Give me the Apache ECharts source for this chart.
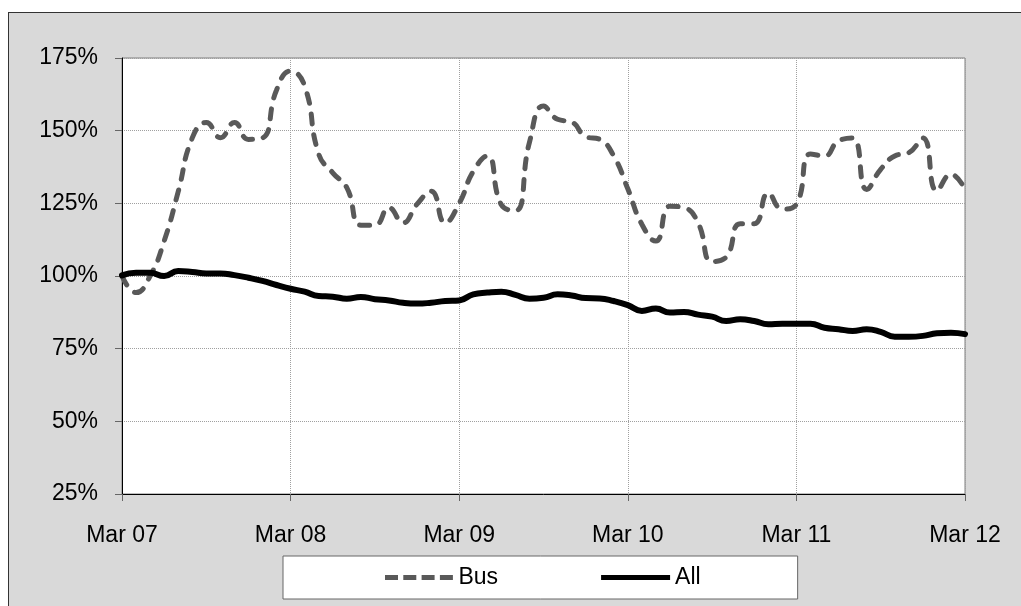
<!DOCTYPE html>
<html>
<head>
<meta charset="utf-8">
<script src="https://cdn.jsdelivr.net/npm/echarts@6/dist/echarts.min.js"></script>
<style>
html,body{margin:0;padding:0;background:#fff;}
#panel{position:absolute;left:8px;top:12px;width:1013px;height:594px;background:#d9d9d9;border-top:1px solid #333;border-left:1px solid #333;box-sizing:border-box;}
#chart{position:absolute;left:0;top:0;width:1021px;height:606px;}
</style>
</head>
<body>
<div id="panel"></div>
<div id="chart"></div>
<script>
const monthNames = ['Mar','Apr','May','Jun','Jul','Aug','Sep','Oct','Nov','Dec','Jan','Feb'];
const tickLabels = ['Mar 07','Mar 08','Mar 09','Mar 10','Mar 11','Mar 12'];
const seriesNames = ['Bus','All'];

const busValues = [
  100, 94.3, 100, 112, 129, 147.5, 152.8, 147.6, 152.8, 147, 147.5, 164,
  170.5, 165.4, 142, 135.5, 130.4, 117.5, 117.5, 123.5, 118.3, 124.7, 129.2, 118.3,
  125, 136, 141.3, 124.5, 122.5, 146, 158.5, 153.9, 153, 148, 147, 141.3,
  130, 117.8, 112, 124, 123.5, 118.3, 105, 106.5, 118, 118, 128.5, 123,
  124.7, 142, 141.3, 146.5, 147.5, 129.8, 136.7, 141.3, 142.4, 147.5, 129.3, 135, 129.8
];
const allValues = [
  100.2, 101.1, 101.1, 100, 101.7, 101.4, 100.9, 100.9, 100.3, 99.4, 98.3, 96.9,
  95.6, 94.6, 93.1, 92.9, 92.2, 92.8, 92, 91.6, 90.8, 90.5, 90.8, 91.4,
  91.6, 93.7, 94.3, 94.6, 93.5, 92.2, 92.5, 93.7, 93.3, 92.4, 92.3, 91.4,
  90, 88, 88.8, 87.4, 87.6, 86.7, 86, 84.5, 85.1, 84.5, 83.4, 83.6,
  83.6, 83.6, 82.2, 81.7, 81.1, 81.7, 80.8, 79.1, 79.1, 79.4, 80.3, 80.5, 80
];

// monthly category labels, Mar 07 .. Mar 12
const categories = [];
for (let y = 0; y < tickLabels.length; y++) {
  const yy = tickLabels[y].slice(4);
  const count = (y === tickLabels.length - 1) ? 1 : 12;
  for (let m = 0; m < count; m++) {
    const label = monthNames[m] + ' ' + (m >= 10 ? tickLabels[y + 1].slice(4) : yy);
    categories.push(label);
  }
}

const yearTick = (i) => i % 12 === 0;
const font = "'Liberation Sans', Arial, sans-serif";
const dashIcon = 'path://M0,0H13V5H0Z M18.3,0H31.3V5H18.3Z M36.6,0H49.6V5H36.6Z M54.9,0H67.9V5H54.9Z';
const solidIcon = 'path://M0,0H70V5H0Z';

const chart = echarts.init(document.getElementById('chart'));
chart.setOption({
  animation: false,
  backgroundColor: 'transparent',
  grid: {
    left: 122, top: 58, right: 56, bottom: 112,
    show: true, backgroundColor: '#ffffff', borderColor: '#7f7f7f', borderWidth: 1,
    containLabel: false
  },
  legend: {
    data: [
      { name: seriesNames[0], icon: dashIcon, itemStyle: { color: '#595959' } },
      { name: seriesNames[1], icon: solidIcon, itemStyle: { color: '#000000' } }
    ],
    left: 283, top: 556,
    padding: [10, 97, 10, 102],
    itemGap: 103,
    itemWidth: 69,
    itemHeight: 5,
    backgroundColor: '#ffffff',
    borderColor: '#666666',
    borderWidth: 1,
    borderRadius: 0,
    textStyle: { fontFamily: font, fontSize: 23, color: '#000' }
  },
  xAxis: {
    type: 'category',
    data: categories,
    boundaryGap: false,
    axisLine: { lineStyle: { color: '#000', width: 1 } },
    axisTick: { show: true, interval: yearTick, length: 7, inside: false, lineStyle: { color: '#666' } },
    axisLabel: {
      interval: yearTick, margin: 30,
      fontFamily: font, fontSize: 23, color: '#000'
    },
    splitLine: { show: true, interval: yearTick, lineStyle: { color: '#a0a0a0', type: 'dotted', width: 1 } }
  },
  yAxis: {
    type: 'value',
    min: 25, max: 175, interval: 25,
    axisLine: { show: true, lineStyle: { color: '#000', width: 1 } },
    axisTick: { show: true, length: 7, lineStyle: { color: '#666' } },
    axisLabel: { formatter: '{value}%', margin: 24, fontFamily: font, fontSize: 23, color: '#000' },
    splitLine: { show: true, lineStyle: { color: '#a0a0a0', type: 'dotted', width: 1 } }
  },
  series: [
    {
      name: seriesNames[0], type: 'line', data: busValues,
      smooth: 0.5, symbol: 'none', showSymbol: false,
      lineStyle: { color: '#595959', width: 5, type: [10, 11], cap: 'round' },
      itemStyle: { color: '#595959' },
      z: 3
    },
    {
      name: seriesNames[1], type: 'line', data: allValues,
      smooth: 0.5, symbol: 'none', showSymbol: false,
      lineStyle: { color: '#000000', width: 6, cap: 'round', join: 'round' },
      itemStyle: { color: '#000000' },
      z: 4
    }
  ]
});
</script>
</body>
</html>
